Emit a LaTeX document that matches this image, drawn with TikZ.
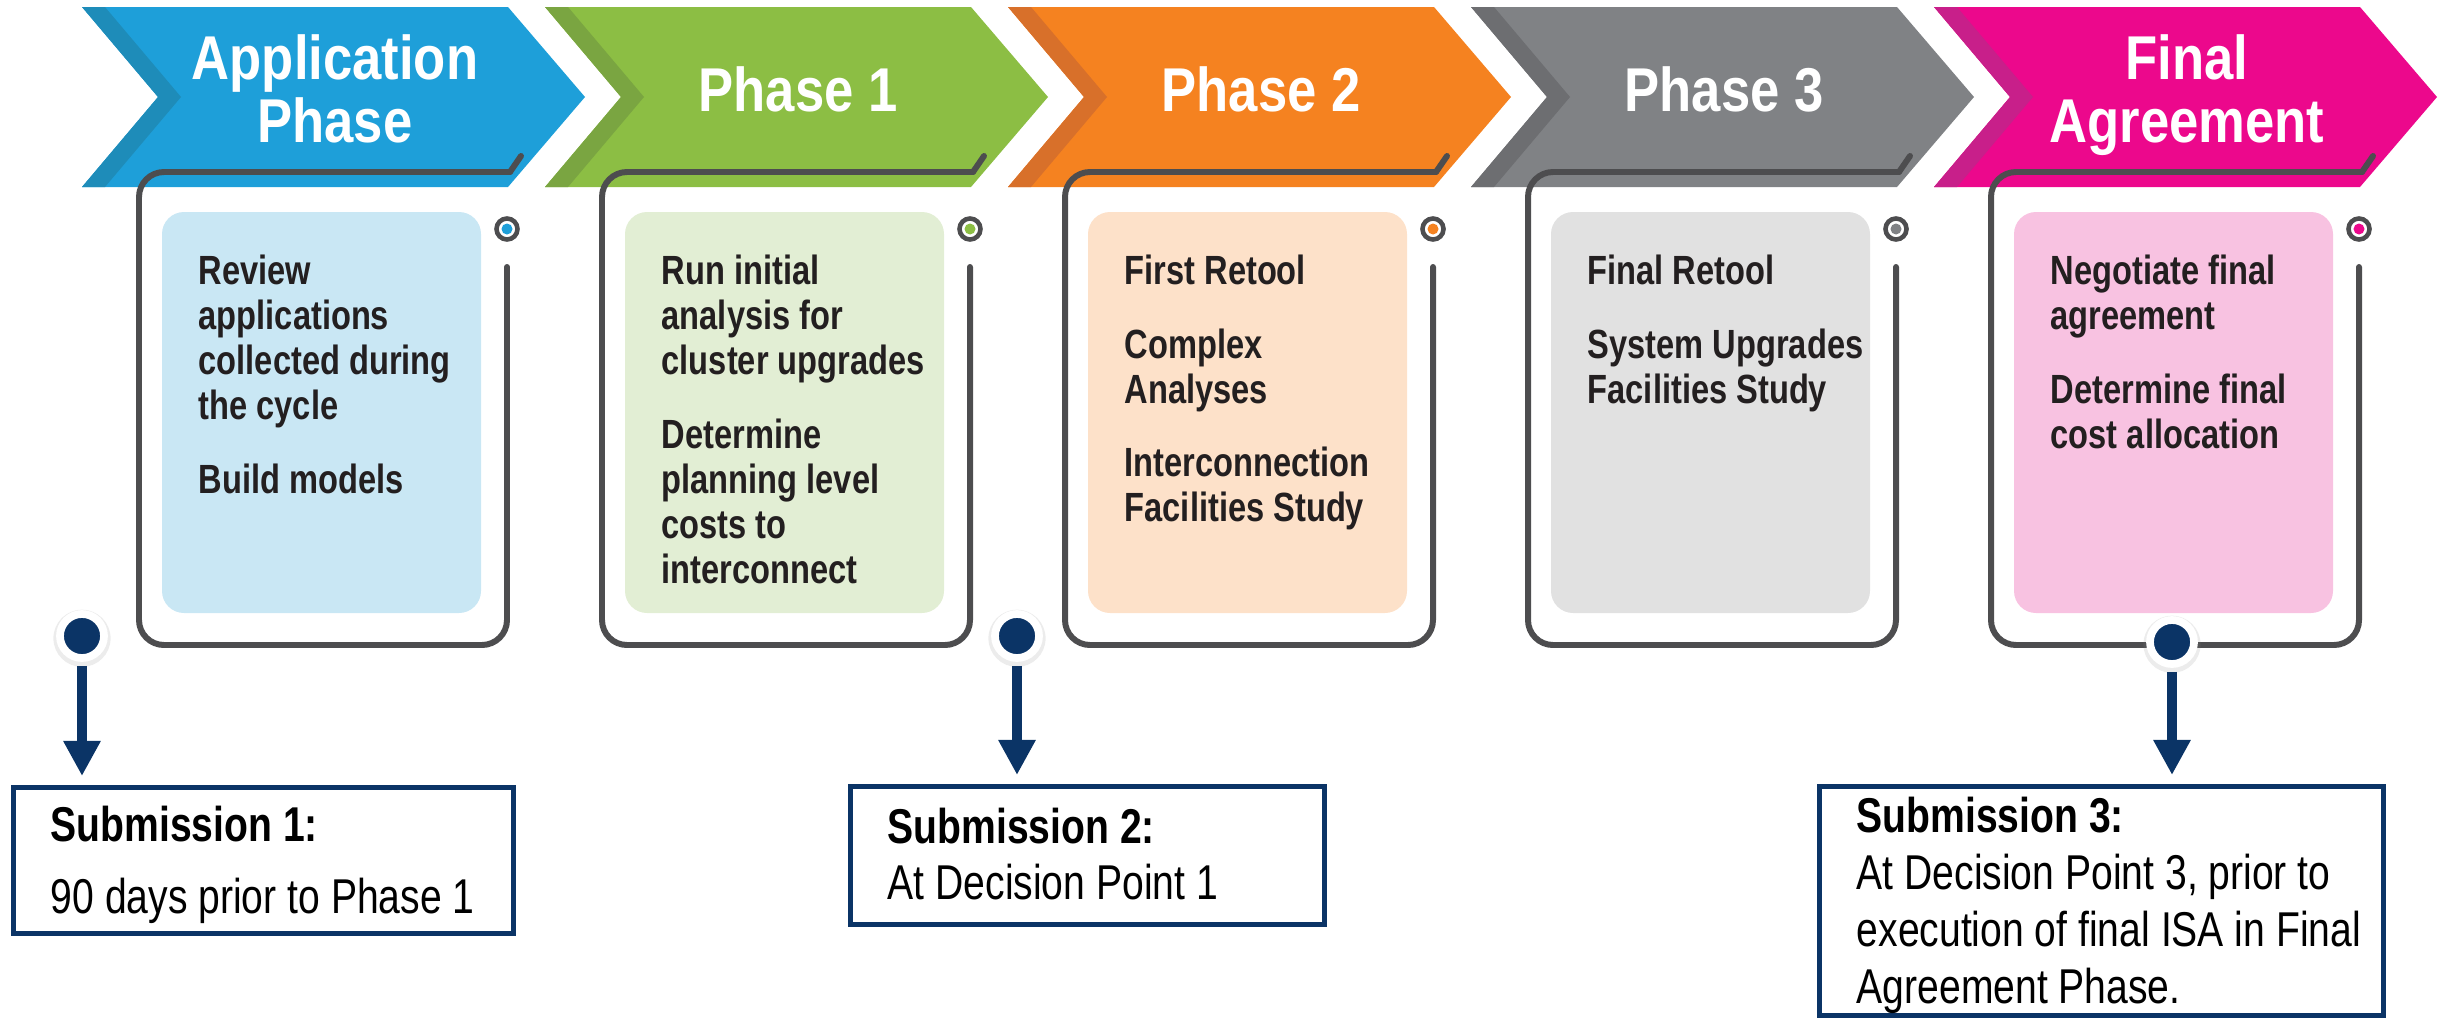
\documentclass[tikz,border=0pt]{standalone}
\usepackage{fontspec}
\newfontfamily\condfont{Liberation Sans}[FakeStretch=0.85]
\newfontfamily\panelfont{Liberation Sans}[FakeStretch=0.8]
\newfontfamily\narrowfont{Liberation Sans}[FakeStretch=0.8]
\usetikzlibrary{arrows.meta,shadows}

\definecolor{bluechev}{HTML}{1E9FD9}
\definecolor{bluestripe}{HTML}{1E8CB9}
\definecolor{bluepanel}{HTML}{C9E7F4}
\definecolor{greenchev}{HTML}{8CBE44}
\definecolor{greenstripe}{HTML}{7AA541}
\definecolor{greenpanel}{HTML}{E2EED4}
\definecolor{orangechev}{HTML}{F58220}
\definecolor{orangestripe}{HTML}{D8702A}
\definecolor{orangepanel}{HTML}{FDE1C9}
\definecolor{graychev}{HTML}{808285}
\definecolor{graystripe}{HTML}{6D6E71}
\definecolor{graypanel}{HTML}{E1E1E1}
\definecolor{pinkchev}{HTML}{EC088C}
\definecolor{pinkstripe}{HTML}{C81F8A}
\definecolor{pinkpanel}{HTML}{F8C2E1}
\definecolor{framegray}{HTML}{4D4D4F}
\definecolor{navy}{HTML}{0B3466}
\definecolor{darktxt}{HTML}{231F20}

\tikzset{
    headtxt/.style={text=white, align=center, inner sep=0, text depth=0pt,
        font=\condfont\bfseries\fontsize{17.6}{17.9}\selectfont},
    frameline/.style={draw=framegray, line width=1.7pt, line cap=round},
    panelbox/.style={rounded corners=0.22cm},
    ringmark/.style={circle, draw=framegray, fill=white, line width=1.3pt,
        minimum size=0.21cm, inner sep=0},
    bodytxt/.style={text=darktxt, align=left, inner sep=0, anchor=north west,
        font=\panelfont\bfseries\fontsize{11.6}{12.8}\selectfont},
    subdot/.style={circle, fill=navy, draw=white, line width=2.2pt,
        minimum size=0.44cm, inner sep=0,
        drop shadow={shadow xshift=0pt, shadow yshift=-0.5pt, shadow scale=1.3, opacity=0.15}},
    subarrow/.style={draw=navy, line width=2.9pt,
        -{Triangle[width=10pt,length=10pt]}, shorten <=0.04cm, shorten >=0.09cm},
    subbox/.style={draw=navy, line width=1.4pt, inner sep=0, anchor=north west},
    subtxt/.style={align=left, inner sep=0, anchor=north west, text=black}
}

\begin{document}
\begin{tikzpicture}[x=0.01cm, y=-0.01cm]
    \useasboundingbox (0,0) rectangle (2451,1018);

    % chevrons
    \fill[bluechev] (82,7) -- (508,7) -- (585,97) -- (508,187) -- (82,187) -- (158,97) -- cycle;
    \fill[bluestripe] (82,7) -- (105,7) -- (181,97) -- (105,187) -- (82,187) -- (158,97) -- cycle;
    \fill[greenchev] (545,7) -- (971,7) -- (1048,97) -- (971,187) -- (545,187) -- (621,97) -- cycle;
    \fill[greenstripe] (545,7) -- (568,7) -- (644,97) -- (568,187) -- (545,187) -- (621,97) -- cycle;
    \fill[orangechev] (1008,7) -- (1434,7) -- (1511,97) -- (1434,187) -- (1008,187) -- (1084,97) -- cycle;
    \fill[orangestripe] (1008,7) -- (1031,7) -- (1107,97) -- (1031,187) -- (1008,187) -- (1084,97) -- cycle;
    \fill[graychev] (1471,7) -- (1897,7) -- (1974,97) -- (1897,187) -- (1471,187) -- (1547,97) -- cycle;
    \fill[graystripe] (1471,7) -- (1494,7) -- (1570,97) -- (1494,187) -- (1471,187) -- (1547,97) -- cycle;
    \fill[pinkchev] (1934,7) -- (2360,7) -- (2437,97) -- (2360,187) -- (1934,187) -- (2010,97) -- cycle;
    \fill[pinkstripe] (1934,7) -- (1957,7) -- (2033,97) -- (1957,187) -- (1934,187) -- (2010,97) -- cycle;

    \node[headtxt] (hdapp) at (335,89) {Application\\Phase};
    \node[headtxt] (hdone) at (798,89) {Phase 1};
    \node[headtxt] (hdtwo) at (1261,89) {Phase 2};
    \node[headtxt] (hdthree) at (1724,89) {Phase 3};
    \node[headtxt] (hdfinal) at (2187,89) {Final\\Agreement};

    % frames
    \draw[frameline] (521,156) -- (510,172);
    \draw[frameline, rounded corners=0.25cm] (510,172) -- (139,172) -- (139,645) -- (507,645) -- (507,267);
    \draw[frameline] (984,156) -- (973,172);
    \draw[frameline, rounded corners=0.25cm] (973,172) -- (602,172) -- (602,645) -- (970,645) -- (970,267);
    \draw[frameline] (1447,156) -- (1436,172);
    \draw[frameline, rounded corners=0.25cm] (1436,172) -- (1065,172) -- (1065,645) -- (1433,645) -- (1433,267);
    \draw[frameline] (1910,156) -- (1899,172);
    \draw[frameline, rounded corners=0.25cm] (1899,172) -- (1528,172) -- (1528,645) -- (1896,645) -- (1896,267);
    \draw[frameline] (2373,156) -- (2362,172);
    \draw[frameline, rounded corners=0.25cm] (2362,172) -- (1991,172) -- (1991,645) -- (2359,645) -- (2359,267);

    % panels
    \fill[bluepanel, panelbox] (162,212) rectangle (481,613);
    \fill[greenpanel, panelbox] (625,212) rectangle (944,613);
    \fill[orangepanel, panelbox] (1088,212) rectangle (1407,613);
    \fill[graypanel, panelbox] (1551,212) rectangle (1870,613);
    \fill[pinkpanel, panelbox] (2014,212) rectangle (2333,613);

    \node[ringmark] (rgapp) at (507,229) {};
    \fill[bluechev] (rgapp.center) circle (5.5);
    \node[ringmark] (rgone) at (970,229) {};
    \fill[greenchev] (rgone.center) circle (5.5);
    \node[ringmark] (rgtwo) at (1433,229) {};
    \fill[orangechev] (rgtwo.center) circle (5.5);
    \node[ringmark] (rgthree) at (1896,229) {};
    \fill[graychev] (rgthree.center) circle (5.5);
    \node[ringmark] (rgfinal) at (2359,229) {};
    \fill[pinkchev] (rgfinal.center) circle (5.5);

    \node[bodytxt] (txapp) at (198,254) {Review\\applications\\collected during\\the cycle\\[8.2pt]Build models};
    \node[bodytxt] (txone) at (661,254) {Run initial\\analysis for\\cluster upgrades\\[8.2pt]Determine\\planning level\\costs to\\interconnect};
    \node[bodytxt] (txtwo) at (1124,254) {First Retool\\[8.2pt]Complex\\Analyses\\[8.2pt]Interconnection\\Facilities Study};
    \node[bodytxt] (txthree) at (1587,254) {Final Retool\\[8.2pt]System Upgrades\\Facilities Study};
    \node[bodytxt] (txfinal) at (2050,254) {Negotiate final\\agreement\\[8.2pt]Determine final\\cost allocation};

    % submissions
    \node[subbox, minimum width=5cm, minimum height=1.46cm] (subone) at (11,785) {};
    \node[subbox, minimum width=4.74cm, minimum height=1.38cm] (subtwo) at (848,784) {};
    \node[subbox, minimum width=5.64cm, minimum height=2.29cm] (subthree) at (1817,784) {};

    \node[subtxt, font=\narrowfont\fontsize{13.9}{20.5}\selectfont] (subonetx) at (50,805)
        {{\bfseries Submission 1:}\\90 days prior to Phase 1};
    \node[subtxt, font=\narrowfont\fontsize{13.9}{15.9}\selectfont] (subtwotx) at (887,807)
        {{\bfseries Submission 2:}\\At Decision Point 1};
    \node[subtxt, font=\narrowfont\fontsize{13.9}{16.2}\selectfont] (subthreetx) at (1856,796)
        {{\bfseries Submission 3:}\\At Decision Point 3, prior to\\execution of final ISA in Final\\Agreement Phase.};

    \node[subdot] (dtone) at (82,636) {};
    \node[subdot] (dttwo) at (1017,636) {};
    \node[subdot] (dtthree) at (2172,642) {};

    \draw[subarrow] (dtone) -- (dtone |- subone.north);
    \draw[subarrow] (dttwo) -- (dttwo |- subtwo.north);
    \draw[subarrow] (dtthree) -- (dtthree |- subthree.north);
\end{tikzpicture}
\end{document}
